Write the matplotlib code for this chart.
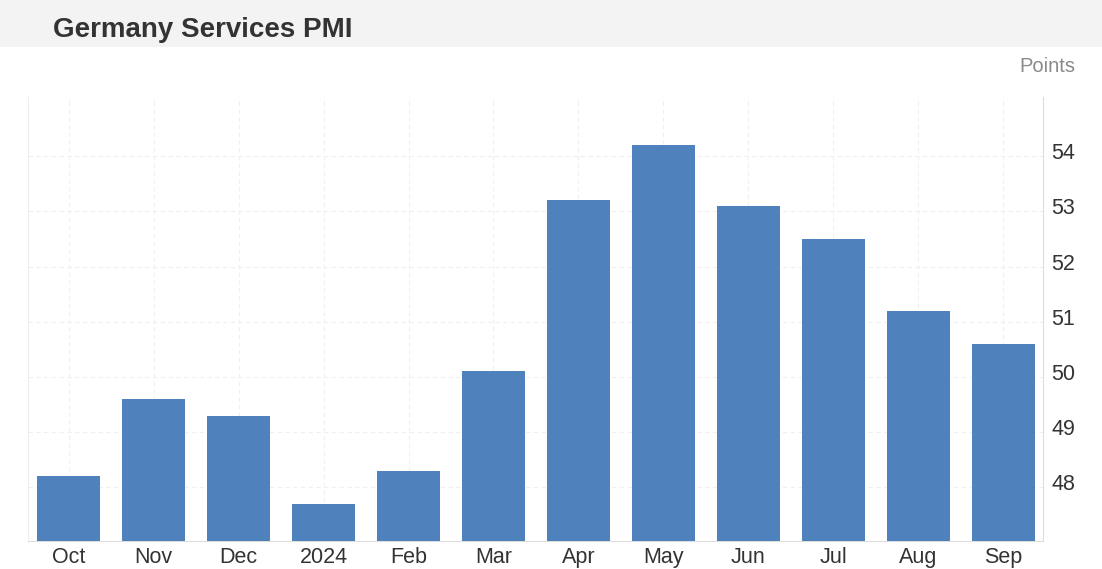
import matplotlib
matplotlib.use("Agg")
import matplotlib.pyplot as plt
import matplotlib.transforms as mtransforms
from matplotlib.patches import Rectangle

categories = ["Oct", "Nov", "Dec", "2024", "Feb", "Mar", "Apr", "May", "Jun", "Jul", "Aug", "Sep"]
values = [48.2, 49.6, 49.3, 47.7, 48.3, 50.1, 53.2, 54.2, 53.1, 52.5, 51.2, 50.6]
yticks = [48, 49, 50, 51, 52, 53, 54]

plt.rcParams['font.family'] = ['Liberation Sans', 'DejaVu Sans']

fig = plt.figure(figsize=(11.02, 5.69), dpi=100)
fig.patch.set_facecolor('white')
# title band
fig.patches.append(Rectangle((0, 1 - 47/569), 1, 47/569, transform=fig.transFigure,
                             facecolor='#f3f3f3', edgecolor='none', zorder=0))
fig.text(53/1102, 1 - 30/569, "Germany Services PMI", fontsize=20, fontweight='bold',
         color='#333333', va='center', ha='left')
fig.text(1075/1102, 1 - 67/569, "Points", fontsize=14.5, color='#8a8a8a', va='center', ha='right')

ax = fig.add_axes([28/1102, 28/569, (1043-28)/1102, (541-97)/569])
x = list(range(len(categories)))
ax.bar(x, values, width=0.74, color='#4f81bd', zorder=3)
ax.set_xlim(-0.48, 11.47)
ax.set_ylim(47.03, 55.07)
ax.set_xticks(x)
ax.set_xticklabels(categories)
ax.set_yticks(yticks)
ax.yaxis.tick_right()
ax.tick_params(axis='both', length=0, labelsize=15.5, labelcolor='#333333')
ax.tick_params(axis='x', pad=4.5)
ax.tick_params(axis='y', pad=6)
shift = mtransforms.ScaledTranslation(0, 5/100, fig.dpi_scale_trans)
for lab in ax.get_yticklabels():
    lab.set_transform(lab.get_transform() + shift)
ax.grid(True, axis='both', color='#efefef', linestyle=(0, (4, 3)), linewidth=0.8, zorder=0)
ax.spines['top'].set_visible(False)
ax.spines['left'].set_color('#eeeeee')
ax.spines['right'].set_color('#dddddd')
ax.spines['bottom'].set_color('#dddddd')
ax.set_facecolor('white')

fig.savefig("out.png", dpi=100)
